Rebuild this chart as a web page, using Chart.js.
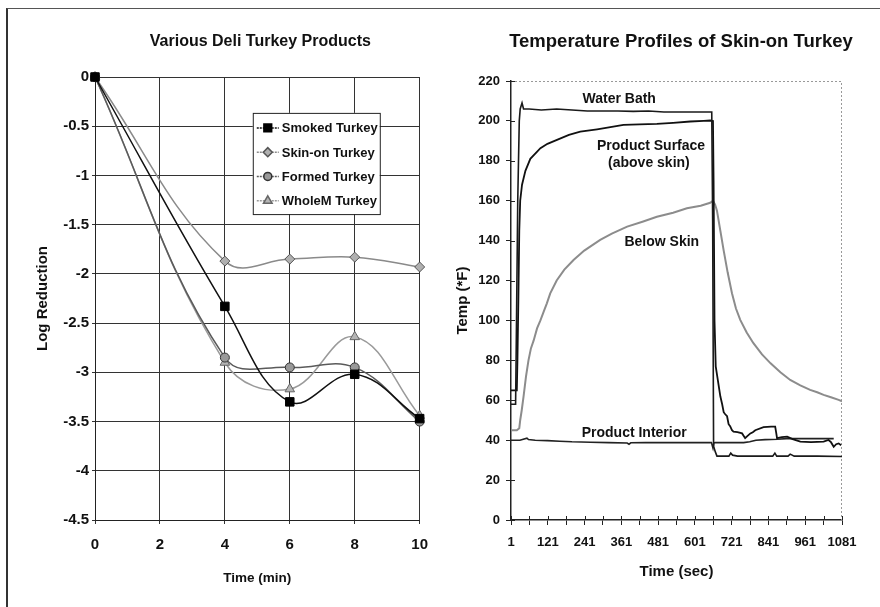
<!DOCTYPE html>
<html lang="en">
<head>
  <meta charset="UTF-8">
  <title>Deli Turkey Products</title>
  <script src="https://cdn.jsdelivr.net/npm/chart.js"></script>
  <style>
    body {
      margin: 0;
      background: #fff;
      font-family: 'Liberation Sans', Arial, sans-serif;
    }
    .page {
      position: relative;
      width: 880px;
      height: 607px;
      overflow: hidden;
    }
    .frame {
      position: absolute;
      left: 6px;
      top: 8px;
      width: 880px;
      height: 610px;
      border-left: 2px solid #333;
      border-top: 1px solid #555;
    }
    canvas {
      position: absolute;
      top: 0;
    }
    #logChart { left: 0; }
    #tempChart { left: 440px; }
  </style>
</head>
<body>
  <div class="page">
    <div class="frame"></div>
    <canvas id="logChart" width="440" height="607"></canvas>
    <canvas id="tempChart" width="440" height="607"></canvas>
  </div>

  <script>
    // left chart: log reduction vs time
    const minutes = [0, 4, 6, 8, 10];
    const smoked = [0, -2.33, -3.3, -3.02, -3.47];
    const skinOn = [0, -1.87, -1.85, -1.83, -1.93];
    const formed = [0, -2.85, -2.95, -2.95, -3.5];
    const wholeM = [0, -2.9, -3.17, -2.64, -3.44];
    const productNames = ['Smoked Turkey', 'Skin-on Turkey', 'Formed Turkey', 'WholeM Turkey'];

    // right chart: temperature traces (sec, °F)
    const bathSec = [1, 16, 19, 23, 28, 31, 37, 42, 60, 100, 150, 200, 250, 300, 350, 400, 450, 500, 550, 600, 640, 656, 659, 662, 668, 673, 700, 712, 718, 724, 740, 800, 855, 862, 868, 905, 912, 925, 1000, 1081];
    const bathTemp = [58, 58, 100, 160, 200, 206, 209, 206, 206, 205.5, 206, 205.5, 205, 205, 205, 204.8, 205, 204.5, 204.5, 204.5, 204.5, 204.5, 150, 37, 34, 32, 32, 32, 33.5, 32.5, 32, 32, 32, 33.5, 32, 32, 33, 32, 32, 31.8];

    const surfaceSec = [1, 20, 22, 25, 28, 31, 37, 48, 64, 97, 120, 151, 190, 227, 282, 330, 368, 420, 477, 530, 586, 630, 651, 660, 662, 665, 669, 676, 684, 690, 695, 700, 706, 711, 716, 722, 727, 740, 755, 765, 772, 782, 790, 798, 825, 850, 863, 866, 869, 885, 902, 920, 945, 980, 1021, 1037, 1045, 1054, 1062, 1070, 1078];
    const surfaceTemp = [65, 65, 80, 110, 145, 160, 168, 175, 181, 186.3, 188.5, 190.5, 193, 194.6, 195.8, 197, 198, 198.3, 198.5, 199, 199.7, 200, 200.2, 200, 170, 100, 77, 70, 62, 58, 54, 53, 52, 48, 47, 45, 44.3, 44, 43.4, 41, 42, 43.4, 44, 45, 46.5, 46.8, 46.8, 44, 41, 41.5, 41.8, 40.5, 39.3, 39, 39.3, 40.1, 39, 36.7, 38, 38.4, 37.5];

    const skinSec = [1, 20, 28, 31, 36, 42, 50, 58, 66, 75, 86, 97, 108, 118, 129, 150, 175, 205, 240, 292, 330, 380, 430, 477, 530, 575, 620, 651, 660, 667, 673, 684, 695, 708, 722, 735, 749, 770, 792, 820, 848, 880, 912, 945, 977, 1000, 1021, 1045, 1070, 1081];
    const skinTemp = [45, 45, 46, 50, 55, 62, 72, 80, 86, 90, 96, 100, 104.5, 108.6, 113.6, 120, 125.5, 130.3, 135, 140.4, 143.5, 147, 149.5, 152, 154, 156.2, 157.5, 159, 160, 158, 155, 145, 135, 124, 113.6, 106, 100.3, 94, 88.6, 83, 78.5, 74, 70.2, 67.5, 65.2, 64, 62.7, 61.5, 60.2, 59.5];

    const interiorSec = [1, 30, 53, 58, 80, 120, 160, 200, 260, 320, 380, 386, 392, 440, 500, 560, 620, 655, 660, 663, 668, 700, 760, 780, 800, 830, 870, 900, 950, 1000, 1054];
    const interiorTemp = [40, 40, 41, 40.3, 40, 39.8, 39.5, 39.2, 39, 38.8, 38.6, 38, 38.7, 38.8, 38.8, 38.8, 38.8, 38.8, 36, 38.7, 38.8, 38.8, 38.8, 39.2, 40, 40.3, 40.5, 40.8, 40.8, 40.8, 40.8];

    const secTicks = [1, 61, 121, 181, 241, 301, 361, 421, 481, 541, 601, 661, 721, 781, 841, 901, 961, 1021, 1081];
    const secLabels = [1, 121, 241, 361, 481, 601, 721, 841, 961, 1081];

    const pairs = (xs, ys) => xs.map((x, i) => ({ x: x, y: ys[i] }));
    const bold = (size) => ({ family: "'Liberation Sans', Arial, sans-serif", size: size, weight: 'bold' });

    // title centred over the plot area
    const headline = {
      id: 'headline',
      afterDraw(chart, args, opts) {
        const { ctx, chartArea } = chart;
        ctx.save();
        ctx.font = 'bold ' + opts.size + "px 'Liberation Sans', Arial, sans-serif";
        ctx.fillStyle = '#111';
        ctx.textAlign = 'center';
        ctx.textBaseline = 'middle';
        ctx.fillText(opts.text, (chartArea.left + chartArea.right) / 2 + opts.dx, opts.y);
        ctx.restore();
      }
    };

    // boxed legend sitting inside the plot
    const boxLegend = {
      id: 'boxLegend',
      afterDatasetsDraw(chart, args, opts) {
        if (!opts.display) return;
        const { ctx, chartArea: a } = chart;
        const x = a.left + opts.x * (a.right - a.left);
        const y = a.top + opts.y * (a.bottom - a.top);
        const sets = chart.data.datasets;
        const h = sets.length * opts.row + 4;
        ctx.save();
        ctx.fillStyle = '#fff';
        ctx.fillRect(x, y, opts.width, h);
        ctx.strokeStyle = '#222';
        ctx.lineWidth = 1;
        ctx.strokeRect(x + 0.5, y + 0.5, opts.width, h);
        ctx.font = 'bold ' + opts.size + "px 'Liberation Sans', Arial, sans-serif";
        ctx.textBaseline = 'middle';
        sets.forEach((ds, i) => {
          const cy = y + 15 + i * opts.row;
          ctx.strokeStyle = ds.borderColor;
          ctx.lineWidth = 1.5;
          ctx.setLineDash([2, 1]);
          ctx.beginPath();
          ctx.moveTo(x + 4, cy);
          ctx.lineTo(x + 26, cy);
          ctx.stroke();
          ctx.setLineDash([]);
          ctx.fillStyle = ds.pointBackgroundColor;
          ctx.strokeStyle = ds.pointBorderColor;
          if (Chart.helpers && Chart.helpers.drawPoint) {
            Chart.helpers.drawPoint(ctx, {
              pointStyle: ds.pointStyle, radius: ds.pointRadius - 0.5, rotation: 0, borderWidth: 1
            }, x + 15, cy);
          } else {
            ctx.fillRect(x + 11, cy - 4, 8, 8);
          }
          ctx.fillStyle = '#111';
          ctx.fillText(ds.label, x + 29, cy + 1);
        });
        ctx.restore();
      }
    };

    // dotted top and right edges of the temperature plot, ticks crossing the axes
    const plotEdge = {
      id: 'plotEdge',
      beforeDatasetsDraw(chart) {
        const { ctx, chartArea: a, scales } = chart;
        ctx.save();
        ctx.strokeStyle = '#999';
        ctx.lineWidth = 1;
        ctx.setLineDash([2, 2]);
        ctx.beginPath();
        ctx.moveTo(a.left, a.top + 0.5);
        ctx.lineTo(a.right - 0.5, a.top + 0.5);
        ctx.lineTo(a.right - 0.5, a.bottom);
        ctx.stroke();
        ctx.setLineDash([]);
        ctx.strokeStyle = '#222';
        ctx.beginPath();
        scales.x.ticks.forEach(t => {
          const px = Math.round(scales.x.getPixelForValue(t.value)) + 0.5;
          ctx.moveTo(px, a.bottom);
          ctx.lineTo(px, a.bottom - 4);
        });
        scales.y.ticks.forEach(t => {
          const py = Math.round(scales.y.getPixelForValue(t.value)) + 0.5;
          ctx.moveTo(a.left, py);
          ctx.lineTo(a.left + 4, py);
        });
        ctx.stroke();
        ctx.restore();
      }
    };

    // in-plot text labels placed in data units
    const traceNotes = {
      id: 'traceNotes',
      afterDatasetsDraw(chart, args, opts) {
        const { ctx, scales } = chart;
        ctx.save();
        ctx.font = 'bold ' + opts.size + "px 'Liberation Sans', Arial, sans-serif";
        ctx.fillStyle = '#111';
        ctx.textAlign = 'center';
        ctx.textBaseline = 'middle';
        opts.items.forEach(n => {
          ctx.fillText(n.text, scales.x.getPixelForValue(n.x), scales.y.getPixelForValue(n.y));
        });
        ctx.restore();
      }
    };

    const styleOf = [
      { line: '#111', fill: '#000', edge: '#000', shape: 'rect', r: 6 },
      { line: '#8a8a8a', fill: '#b0b0b0', edge: '#555', shape: 'rectRot', r: 5 },
      { line: '#5a5a5a', fill: '#999', edge: '#333', shape: 'circle', r: 4.5 },
      { line: '#9a9a9a', fill: '#b5b5b5', edge: '#666', shape: 'triangle', r: 5.5 }
    ];

    new Chart(document.getElementById('logChart'), {
      type: 'line',
      data: {
        datasets: [smoked, skinOn, formed, wholeM].map((vals, i) => ({
          label: productNames[i],
          data: pairs(minutes, vals),
          borderColor: styleOf[i].line,
          borderWidth: 1.5,
          tension: 0.4,
          pointStyle: styleOf[i].shape,
          pointRadius: styleOf[i].r,
          pointBackgroundColor: styleOf[i].fill,
          pointBorderColor: styleOf[i].edge,
          pointBorderWidth: 1,
          clip: false
        }))
      },
      options: {
        responsive: false,
        animation: false,
        layout: { padding: { top: 77, right: 12, bottom: 0, left: 0 } },
        plugins: {
          legend: { display: false },
          tooltip: { enabled: false },
          headline: { text: 'Various Deli Turkey Products', size: 16, y: 42, dx: 3 },
          boxLegend: { display: true, x: 0.486, y: 0.081, width: 127, row: 24.3, size: 13 }
        },
        scales: {
          x: {
            type: 'linear',
            min: 0,
            max: 10,
            afterFit: s => { s.height = 87; },
            ticks: { stepSize: 2, color: '#111', font: bold(15), padding: 12 },
            grid: { color: '#333', tickLength: 4 },
            border: { color: '#222' },
            title: { display: true, text: 'Time (min)', color: '#111', font: bold(13.5), padding: { top: 4, bottom: 21 } }
          },
          y: {
            min: -4.5,
            max: 0,
            afterFit: s => { s.width = 95; },
            ticks: {
              stepSize: 0.5,
              color: '#111',
              font: bold(15),
              padding: 3,
              callback: v => String(Number(v.toFixed(1)))
            },
            grid: { color: '#333', tickLength: 3 },
            border: { color: '#222' },
            title: { display: true, text: 'Log Reduction', color: '#111', font: bold(15), padding: { top: 34, bottom: 4 } }
          }
        }
      },
      plugins: [headline, boxLegend]
    });

    new Chart(document.getElementById('tempChart'), {
      type: 'line',
      data: {
        datasets: [
          { label: 'Water Bath', data: pairs(bathSec, bathTemp), borderColor: '#1a1a1a', borderWidth: 1.6 },
          { label: 'Product Surface', data: pairs(surfaceSec, surfaceTemp), borderColor: '#111', borderWidth: 1.8 },
          { label: 'Below Skin', data: pairs(skinSec, skinTemp), borderColor: '#8c8c8c', borderWidth: 2 },
          { label: 'Product Interior', data: pairs(interiorSec, interiorTemp), borderColor: '#222', borderWidth: 1.6 }
        ]
      },
      options: {
        responsive: false,
        animation: false,
        elements: { point: { radius: 0 }, line: { tension: 0 } },
        layout: { padding: { top: 81, right: 38, bottom: 0, left: 0 } },
        plugins: {
          legend: { display: false },
          tooltip: { enabled: false },
          headline: { text: 'Temperature Profiles of Skin-on Turkey', size: 18.5, y: 42, dx: 4.5 },
          traceNotes: {
            size: 14,
            items: [
              { text: 'Water Bath', x: 354, y: 211 },
              { text: 'Product Surface', x: 458, y: 187.6 },
              { text: '(above skin)', x: 451, y: 178.8 },
              { text: 'Below Skin', x: 493, y: 139 },
              { text: 'Product Interior', x: 403, y: 43.4 }
            ]
          }
        },
        scales: {
          x: {
            type: 'linear',
            min: 1,
            max: 1081,
            afterFit: s => { s.height = 87; },
            afterBuildTicks: s => { s.ticks = secTicks.map(v => ({ value: v })); },
            ticks: {
              autoSkip: false,
              maxRotation: 0,
              color: '#111',
              font: bold(13),
              padding: 10,
              callback: v => secLabels.includes(v) ? String(v) : ''
            },
            grid: { drawOnChartArea: false, color: '#222', tickLength: 5 },
            border: { color: '#222', width: 1.5 },
            title: { display: true, text: 'Time (sec)', color: '#111', font: bold(15), padding: { top: 4, bottom: 26 } }
          },
          y: {
            min: 0,
            max: 220,
            afterFit: s => { s.width = 71; },
            ticks: { stepSize: 20, color: '#111', font: bold(13), padding: 6 },
            grid: { drawOnChartArea: false, color: '#222', tickLength: 5 },
            border: { color: '#222', width: 1.5 },
            title: { display: true, text: 'Temp (*F)', color: '#111', font: bold(15), padding: { top: 14, bottom: 4 } }
          }
        }
      },
      plugins: [headline, plotEdge, traceNotes]
    });
  </script>
</body>
</html>
